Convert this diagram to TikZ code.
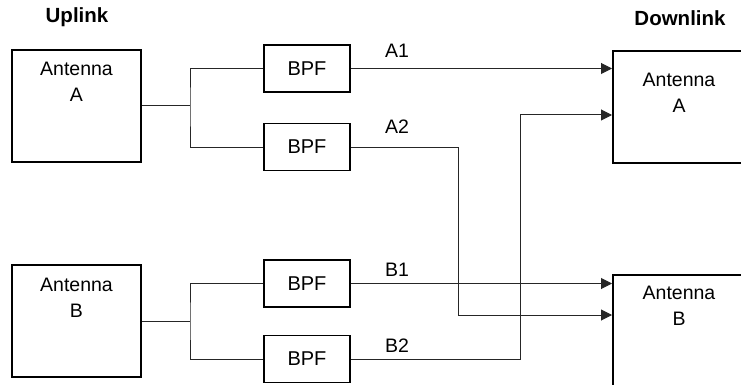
\documentclass[tikz,border=0pt]{standalone}
\usepackage{fontspec}
\setmainfont{Liberation Sans}
\usetikzlibrary{arrows.meta}
\tikzset{
  antbox/.style={draw=black,line width=1.8pt,minimum width=129pt,minimum height=112pt,inner sep=0pt},
  anttext/.style={anchor=north,align=center,inner sep=0pt,font=\fontsize{19.5}{26}\selectfont},
  bpfbox/.style={draw=black,line width=1.3pt,minimum width=86pt,minimum height=47pt,inner sep=0pt,font=\fontsize{20}{26}\selectfont},
  wire/.style={line width=1pt,draw=black!85},
  sig/.style={wire,-{Triangle[length=11pt,width=11pt]}},
  chan/.style={anchor=west,inner sep=0pt,font=\fontsize{19.5}{26}\selectfont},
  head/.style={inner sep=0pt,font=\fontsize{20.5}{26}\selectfont\bfseries}
}
\begin{document}
\begin{tikzpicture}[x=1pt,y=-1pt]
\useasboundingbox (0,0) rectangle (741,385);
% headings
\node[head] (uplink) at (77,17) {Uplink};
\node[head] (downlink) at (680,18) {Downlink};
% uplink antennas
\node[antbox] (upA) at (76.5,106) {};
\node[anttext] (upAt) at (76.5,62) {Antenna\\A};
\node[antbox] (upB) at (76.5,321) {};
\node[anttext] (upBt) at (76.5,277.5) {Antenna\\B};
% downlink antennas (cut by the right edge)
\node[antbox,minimum width=133pt,anchor=north west] (dnA) at (612,50) {};
\node[anttext] (dnAt) at (679,72.5) {Antenna\\A};
\node[antbox,minimum width=133pt,anchor=north west] (dnB) at (612,274) {};
\node[anttext] (dnBt) at (679,286) {Antenna\\B};
% band pass filters
\node[bpfbox] (bpf1) at (307,68.5) {BPF};
\node[bpfbox] (bpf2) at (307,147) {BPF};
\node[bpfbox] (bpf3) at (307,283.5) {BPF};
\node[bpfbox] (bpf4) at (307,359) {BPF};
% splitters
\coordinate (splitA) at (190,106);
\coordinate (splitB) at (190,321);
\draw[wire] (upA.east) -- (splitA);
\draw[wire] (bpf1.west) -| (splitA) |- (bpf2.west);
\draw[wire] (upB.east) -- (splitB);
\draw[wire] (bpf3.west) -| (splitB) |- (bpf4.west);
% channels
\coordinate (a2bend) at (458,315);
\coordinate (b2bend) at (520,115);
\draw[sig] (bpf1.east) -- (bpf1.east -| dnA.west);
\draw[sig] (bpf2.east) -| (a2bend) -- (a2bend -| dnB.west);
\draw[sig] (bpf3.east) -- (bpf3.east -| dnB.west);
\draw[sig] (bpf4.east) -| (b2bend) -- (b2bend -| dnA.west);
% channel labels
\node[chan] (lA1) at (385,51) {A1};
\node[chan] (lA2) at (385,127) {A2};
\node[chan] (lB1) at (385,270) {B1};
\node[chan] (lB2) at (385,346) {B2};
\end{tikzpicture}
\end{document}
